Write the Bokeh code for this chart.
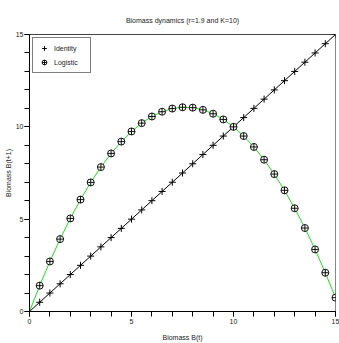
from bokeh.plotting import figure
from bokeh.models import Range1d, FixedTicker, Legend, LegendItem, Span
from bokeh.embed import file_html
from bokeh.resources import INLINE

# Data
biomass = [0, 0.5, 1, 1.5, 2, 2.5, 3, 3.5, 4, 4.5, 5, 5.5, 6, 6.5, 7, 7.5,
           8, 8.5, 9, 9.5, 10, 10.5, 11, 11.5, 12, 12.5, 13, 13.5, 14, 14.5, 15]
identity = [0, 0.5, 1, 1.5, 2, 2.5, 3, 3.5, 4, 4.5, 5, 5.5, 6, 6.5, 7, 7.5,
            8, 8.5, 9, 9.5, 10, 10.5, 11, 11.5, 12, 12.5, 13, 13.5, 14, 14.5, 15]
logistic = [0, 1.40, 2.71, 3.92, 5.04, 6.06, 6.99, 7.82, 8.56, 9.20, 9.75,
            10.20, 10.56, 10.82, 10.99, 11.06, 11.04, 10.92, 10.71, 10.40, 10.0,
            9.50, 8.91, 8.22, 7.44, 6.56, 5.59, 4.52, 3.36, 2.10, 0.75]
x_ticks = [0, 5, 10, 15]
y_ticks = [0, 5, 10, 15]
minor = list(range(16))

FONT = "Liberation Sans"
TXT = "#222222"

p = figure(width=339, height=343, output_backend="svg", toolbar_location=None,
           x_range=Range1d(0, 15), y_range=Range1d(0, 15),
           title="Biomass dynamics (r=1.9 and K=10)",
           min_border_left=29, min_border_right=4, min_border_top=34, min_border_bottom=32)

p.title.align = "center"
p.title.vertical_align = "top"
p.title.text_font = FONT
p.title.text_font_size = "7px"
p.title.text_font_style = "normal"
p.title.text_color = TXT
p.title.standoff = 17

p.xgrid.visible = False
p.ygrid.visible = False
p.outline_line_color = "#888888"
p.background_fill_color = "white"
p.border_fill_color = "white"

for ax, ticks in ((p.xaxis[0], x_ticks), (p.yaxis[0], y_ticks)):
    ax.ticker = FixedTicker(ticks=ticks, minor_ticks=minor)
    ax.major_tick_in = 0
    ax.major_tick_out = 5
    ax.minor_tick_in = 0
    ax.minor_tick_out = 5
    ax.axis_line_color = "black"
    ax.major_tick_line_color = "black"
    ax.minor_tick_line_color = "black"
    ax.major_label_text_font = FONT
    ax.major_label_text_font_size = "7px"
    ax.major_label_text_color = TXT
    ax.axis_label_text_font = FONT
    ax.axis_label_text_font_size = "7px"
    ax.axis_label_text_font_style = "normal"
    ax.axis_label_text_color = TXT

p.xaxis.axis_label = "Biomass B(t)"
p.yaxis.axis_label = "Biomass B(t+1)"
p.xaxis.major_label_standoff = 2
p.yaxis.major_label_standoff = 1
p.xaxis.axis_label_standoff = 7
p.yaxis.axis_label_standoff = 1

p.add_layout(Span(location=15, dimension="width", line_color="black", line_width=1))

p.line(biomass, identity, line_color="black", line_width=1)
p.line(biomass, logistic, line_color="#22dd22", line_width=1)
r1 = p.scatter(biomass[1:], identity[1:], marker="cross", size=7, line_color="black", line_width=1)
r2 = p.scatter(biomass[1:], logistic[1:], marker="circle_cross", size=7, line_color="#111111",
               fill_color="white", fill_alpha=0.8, line_width=1)

legend = Legend(items=[LegendItem(label="Identity", renderers=[r1]),
                       LegendItem(label="Logistic", renderers=[r2])],
                location=(3, 238))
legend.label_text_font = FONT
legend.label_text_font_size = "7px"
legend.label_text_color = TXT
legend.border_line_color = "black"
legend.border_line_width = 1
legend.margin = 0
legend.padding = 4
legend.spacing = 2
legend.glyph_height = 12
legend.glyph_width = 14
legend.label_height = 12
legend.label_width = 32
legend.label_standoff = 3
p.add_layout(legend)

open("out.html", "w").write(file_html(p, INLINE))
